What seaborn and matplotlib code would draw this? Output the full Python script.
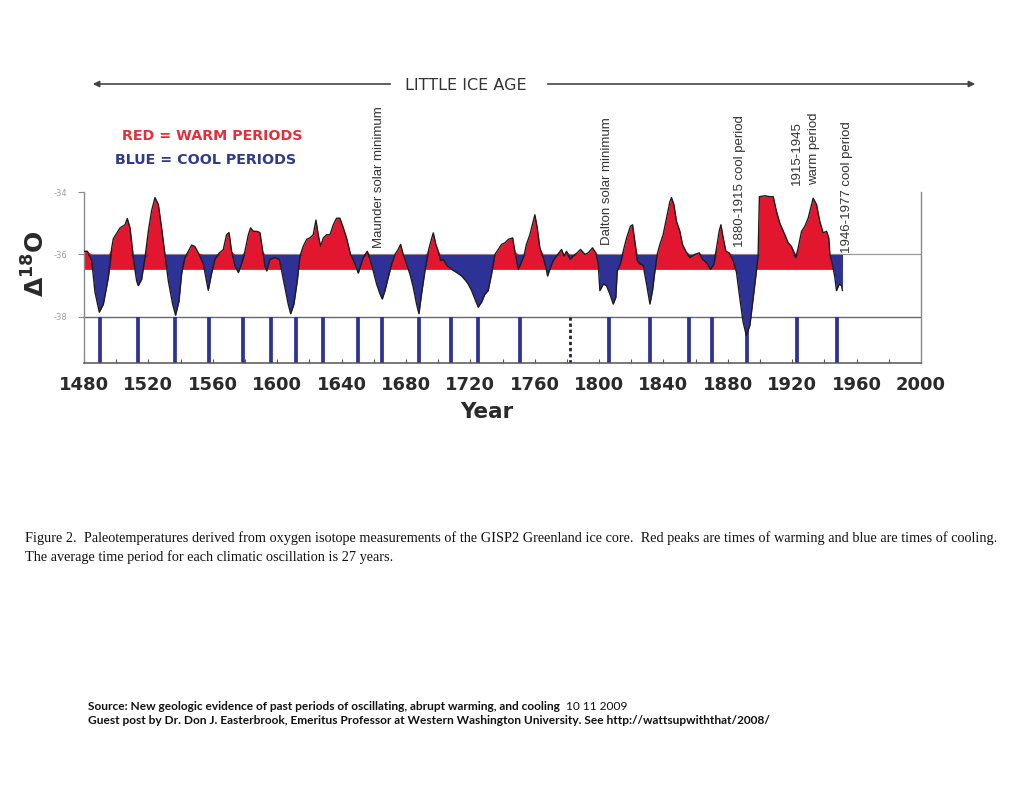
import numpy as np
import pandas as pd
import matplotlib
matplotlib.use("Agg")
import matplotlib.pyplot as plt
import seaborn as sns

# ---------------- data ----------------
years = [
    1480.0, 1482.1, 1484.8, 1486.8, 1489.5, 1492.0, 1495.1, 1497.2, 1498.2, 1502.4,
    1505.5, 1506.9, 1508.6, 1510.6, 1512.7, 1513.7, 1515.8, 1517.9, 1520.0, 1522.0,
    1524.1, 1526.2, 1528.2, 1530.3, 1532.4, 1535.1, 1536.9, 1539.0, 1540.7, 1542.7,
    1544.8, 1546.9, 1548.9, 1551.0, 1554.1, 1557.2, 1559.3, 1561.4, 1564.1, 1566.5,
    1568.6, 1570.1, 1571.7, 1573.8, 1575.9, 1577.9, 1580.0, 1582.1, 1583.5, 1585.2,
    1587.2, 1589.3, 1591.0, 1592.4, 1593.5, 1595.5, 1598.6, 1601.3, 1602.8, 1604.8,
    1606.9, 1608.4, 1610.4, 1612.5, 1614.2, 1616.2, 1618.3, 1620.4, 1622.4, 1624.1,
    1625.5, 1627.0, 1628.7, 1630.7, 1632.8, 1634.9, 1636.9, 1639.0, 1641.1, 1643.1,
    1645.6, 1648.3, 1650.4, 1653.5, 1656.0, 1657.6, 1659.7, 1661.8, 1663.9, 1665.3,
    1667.0, 1669.0, 1671.1, 1673.2, 1675.2, 1676.7, 1678.3, 1680.4, 1682.5, 1684.6,
    1686.6, 1688.1, 1689.7, 1691.8, 1693.9, 1695.5, 1697.0, 1698.6, 1700.1, 1701.5,
    1703.2, 1705.7, 1708.4, 1711.5, 1714.6, 1717.3, 1718.7, 1720.8, 1722.9, 1724.9,
    1727.0, 1729.1, 1731.1, 1733.2, 1735.3, 1737.4, 1739.4, 1741.5, 1743.6, 1746.3,
    1747.7, 1749.8, 1751.2, 1753.3, 1754.9, 1757.0, 1759.1, 1760.1, 1761.6, 1763.2,
    1765.3, 1767.0, 1768.0, 1769.4, 1771.5, 1773.6, 1776.7, 1778.1, 1779.8, 1781.9,
    1783.9, 1786.4, 1788.5, 1791.2, 1793.3, 1795.9, 1798.0, 1799.5, 1800.5, 1802.6,
    1804.6, 1806.7, 1808.8, 1810.4, 1811.3, 1813.3, 1815.0, 1817.1, 1819.5, 1820.8,
    1822.2, 1823.7, 1825.3, 1827.4, 1829.5, 1831.6, 1833.2, 1834.7, 1836.1, 1837.8,
    1839.8, 1841.9, 1844.0, 1845.0, 1846.5, 1848.1, 1850.2, 1851.8, 1853.9, 1856.4,
    1859.5, 1862.2, 1864.3, 1866.7, 1869.2, 1871.3, 1873.0, 1874.6, 1875.7, 1877.1,
    1878.8, 1880.8, 1883.3, 1885.4, 1887.5, 1889.5, 1891.5, 1893.7, 1895.7, 1897.4,
    1898.8, 1899.6, 1903.0, 1906.1, 1908.2, 1910.2, 1912.3, 1915.4, 1917.5, 1919.5,
    1922.2, 1923.7, 1925.8, 1927.8, 1929.9, 1933.0, 1935.1, 1937.1, 1939.2, 1941.3,
    1942.7, 1943.4, 1945.0, 1946.5, 1947.5, 1949.2, 1950.6, 1951.2,
]
d18o = [
    -35.90, -35.90, -36.20, -37.20, -37.85, -37.60, -36.75, -35.80, -35.50, -35.15,
    -35.05, -34.85, -35.15, -36.10, -36.85, -37.00, -36.80, -36.10, -35.25, -34.60,
    -34.18, -34.40, -35.15, -36.00, -36.85, -37.60, -37.95, -37.50, -36.60, -36.10,
    -35.90, -35.70, -35.75, -35.95, -36.30, -37.15, -36.60, -36.15, -35.95, -35.85,
    -35.37, -35.30, -35.90, -36.37, -36.58, -36.30, -35.90, -35.37, -35.15, -35.26,
    -35.26, -35.30, -35.90, -36.37, -36.53, -36.16, -36.10, -36.16, -36.53, -37.06,
    -37.60, -37.90, -37.60, -36.85, -36.05, -35.74, -35.52, -35.47, -35.37, -34.90,
    -35.37, -35.74, -35.47, -35.37, -35.37, -35.05, -34.84, -34.84, -35.15, -35.47,
    -36.00, -36.30, -36.60, -36.10, -35.90, -36.16, -36.53, -36.95, -37.27, -37.43,
    -37.16, -36.74, -36.32, -36.00, -35.84, -35.68, -36.00, -36.32, -36.63, -37.06,
    -37.59, -37.90, -37.27, -36.53, -35.90, -35.58, -35.31, -35.68, -35.90, -36.20,
    -36.16, -36.37, -36.48, -36.58, -36.69, -36.85, -36.95, -37.16, -37.43, -37.69,
    -37.53, -37.27, -37.16, -36.63, -36.00, -35.84, -35.68, -35.63, -35.52, -35.47,
    -35.90, -36.48, -36.32, -36.05, -35.68, -35.37, -34.94, -34.73, -35.15, -35.79,
    -36.10, -36.42, -36.69, -36.48, -36.20, -36.05, -35.84, -36.05, -35.90, -36.16,
    -36.05, -35.95, -35.84, -36.00, -35.95, -35.79, -35.95, -36.32, -37.16, -36.95,
    -37.00, -37.27, -37.59, -37.38, -36.53, -36.30, -35.90, -35.47, -35.10, -35.05,
    -35.58, -36.20, -36.30, -36.35, -36.95, -37.59, -37.16, -36.53, -36.00, -35.68,
    -35.37, -34.84, -34.31, -34.18, -34.41, -34.94, -35.26, -35.68, -35.90, -36.10,
    -36.00, -35.95, -36.16, -36.26, -36.48, -36.32, -35.79, -35.26, -35.05, -35.47,
    -35.90, -35.95, -36.20, -36.58, -37.43, -38.17, -38.60, -38.27, -37.43, -36.69,
    -36.05, -34.15, -34.12, -34.15, -34.15, -34.62, -35.00, -35.37, -35.63, -35.74,
    -36.10, -35.79, -35.26, -35.10, -34.84, -34.20, -34.40, -34.94, -35.31, -35.26,
    -35.47, -36.00, -36.32, -36.74, -37.16, -36.95, -37.00, -37.16,
]
cool_bar_years = [1490, 1513.5, 1536.5, 1557.6, 1578.8, 1596, 1611.7, 1628.4, 1650,
                  1665, 1688, 1708, 1725, 1751, 1806, 1831.5, 1856, 1870, 1892,
                  1923, 1948]
dotted_bar_years = [1782]
xtick_years = list(range(1480, 2001, 40))
xminor_years = list(range(1480, 2001, 20))
ytick_vals = [-38, -36, -34]
ytick_labels = ["-38", "-36", "-34"]
cool_line = -36.0
warm_base = -36.48
bar_top = -38.0

annotations = [
    ("Maunder solar minimum", 379, 248),
    ("Dalton solar minimum", 607, 245),
    ("1880-1915 cool period", 740, 247),
    ("1915-1945", 797, 185),
    ("warm period", 814, 185),
    ("1946-1977 cool period", 847, 253),
]
caption_lines = [
    "Figure 2.  Paleotemperatures derived from oxygen isotope measurements of the GISP2 Greenland ice core.  Red peaks are times of warming and blue are times of cooling.",
    "The average time period for each climatic oscillation is 27 years.",
]
source_bold_1 = "Source: New geologic evidence of past periods of oscillating, abrupt warming, and cooling"
source_date = "10 11 2009"
source_bold_2 = "Guest post by Dr. Don J. Easterbrook, Emeritus Professor at Western Washington University. See http://wattsupwiththat/2008/"

# ---------------- style ----------------
sns.set_theme(style="white")
plt.rcParams["font.family"] = ["DejaVu Sans"]

RED = "#e3162f"
BLUE = "#2e3196"
W, H = 1024, 791

fig = plt.figure(figsize=(W / 100, H / 100), dpi=100)
fig.patch.set_facecolor("white")


def P(px, py):
    return px / W, 1 - py / H


ax = fig.add_axes([84 / W, 1 - 363 / H, (921 - 84) / W, (363 - 192) / H])
ax.set_facecolor("white")

df = pd.DataFrame({"Year": years, "d18O": d18o})
x = df["Year"].to_numpy()
y = df["d18O"].to_numpy()

ax.axhline(cool_line, color="#9a9a9a", lw=0.9, zorder=0.5)
ax.axhline(bar_top, color="#6a6a6a", lw=1.0, zorder=0.5)

ax.fill_between(x, np.maximum(y, cool_line), warm_base, color=RED, lw=0, zorder=1)
ax.fill_between(x, np.minimum(y, cool_line), cool_line, color=BLUE, lw=0, zorder=2)
sns.lineplot(data=df, x="Year", y="d18O", ax=ax, color="#1c1c1c", lw=1.0,
             zorder=3, sort=False)

ax.vlines(cool_bar_years, -39.48, bar_top, color=BLUE, lw=2.7, zorder=2)
ax.vlines(dotted_bar_years, -39.48, bar_top, color="#222244", lw=2.0,
          linestyles=(0, (1.2, 1.0)), zorder=2)

ax.set_xlim(1480, 2000)
ax.set_ylim(-39.48, -34.0)
ax.set_xticks(xtick_years)
ax.set_xticklabels([str(v) for v in xtick_years], fontsize=13, fontweight="bold",
                   color="#2a2a2a")
ax.set_xticks(xminor_years, minor=True)
ax.set_yticks(ytick_vals)
ax.set_yticklabels(ytick_labels, fontsize=6, color="#a0a0a0")
ax.tick_params(axis="x", which="both", direction="in", length=3, width=0.8,
               color="#555555", pad=9, bottom=True)
ax.tick_params(axis="y", direction="out", length=4, width=0.8, color="#8a8a8a",
               pad=8, left=True)
ax.set_xlabel("")
ax.set_ylabel("")
ax.grid(False)
for side, col, lw in [("left", "#8a8a8a", 1.0), ("right", "#8a8a8a", 1.0),
                      ("bottom", "#555555", 1.1)]:
    ax.spines[side].set_visible(True)
    ax.spines[side].set_color(col)
    ax.spines[side].set_linewidth(lw)
ax.spines["top"].set_visible(False)

# axis titles
fig.text(*P(487, 412), "Year", ha="center", va="center", fontsize=15.5,
         fontweight="bold", color="#2a2a2a")
fig.text(*P(36, 264), r"$\mathbf{\Delta^{18}O}$", ha="center", va="center",
         rotation=90, fontsize=18, color="#2a2a2a")

# Little Ice Age arrow
fig.add_artist(matplotlib.patches.FancyArrowPatch(
    P(393, 84), P(90, 84), transform=fig.transFigure, arrowstyle="-|>",
    mutation_scale=9, color="#444444", lw=1.2))
fig.add_artist(matplotlib.patches.FancyArrowPatch(
    P(545, 84), P(978, 84), transform=fig.transFigure, arrowstyle="-|>",
    mutation_scale=9, color="#444444", lw=1.2))
fig.text(*P(466, 85), "LITTLE ICE AGE", ha="center", va="center", fontsize=11.5,
         color="#333333")

# legend-like labels
fig.text(*P(122, 136), "RED = WARM PERIODS", ha="left", va="center", fontsize=10.3,
         fontweight="bold", color="#e0303a")
fig.text(*P(115, 160), "BLUE = COOL PERIODS", ha="left", va="center", fontsize=10.3,
         fontweight="bold", color="#2e3a8c")

for txt, px, py in annotations:
    fig.text(*P(px, py), txt, rotation=90, ha="center", va="bottom", fontsize=9.5,
             family="Liberation Sans", color="#333333")

# caption and source text, fitted to reference widths
fig.canvas.draw()
renderer = fig.canvas.get_renderer()


def fit(px, py, s, width_px, **kw):
    t = fig.text(*P(px, py), s, ha="left", va="center", fontsize=10, **kw)
    w = t.get_window_extent(renderer).width
    fs = 10 * width_px / w
    t.set_fontsize(fs)
    return t, fs


_, cap_fs = fit(25, 538, caption_lines[0], 978, family="Liberation Serif",
                color="#111111")
fig.text(*P(25, 557), caption_lines[1], ha="left", va="center", fontsize=cap_fs,
         family="Liberation Serif", color="#111111")

_, src_fs = fit(88, 721, source_bold_2, 685, family="Lato", fontweight="bold",
                color="#111111")
t1 = fig.text(*P(88, 706), source_bold_1, ha="left", va="center", fontsize=src_fs,
              family="Lato", fontweight="bold", color="#111111")
ext = t1.get_window_extent(renderer)
fig.text((ext.x1 + 6) / W, 1 - 706 / H, source_date, ha="left", va="center",
         fontsize=src_fs, family="Lato", color="#111111")

fig.savefig("out.png", dpi=100, facecolor="white")
